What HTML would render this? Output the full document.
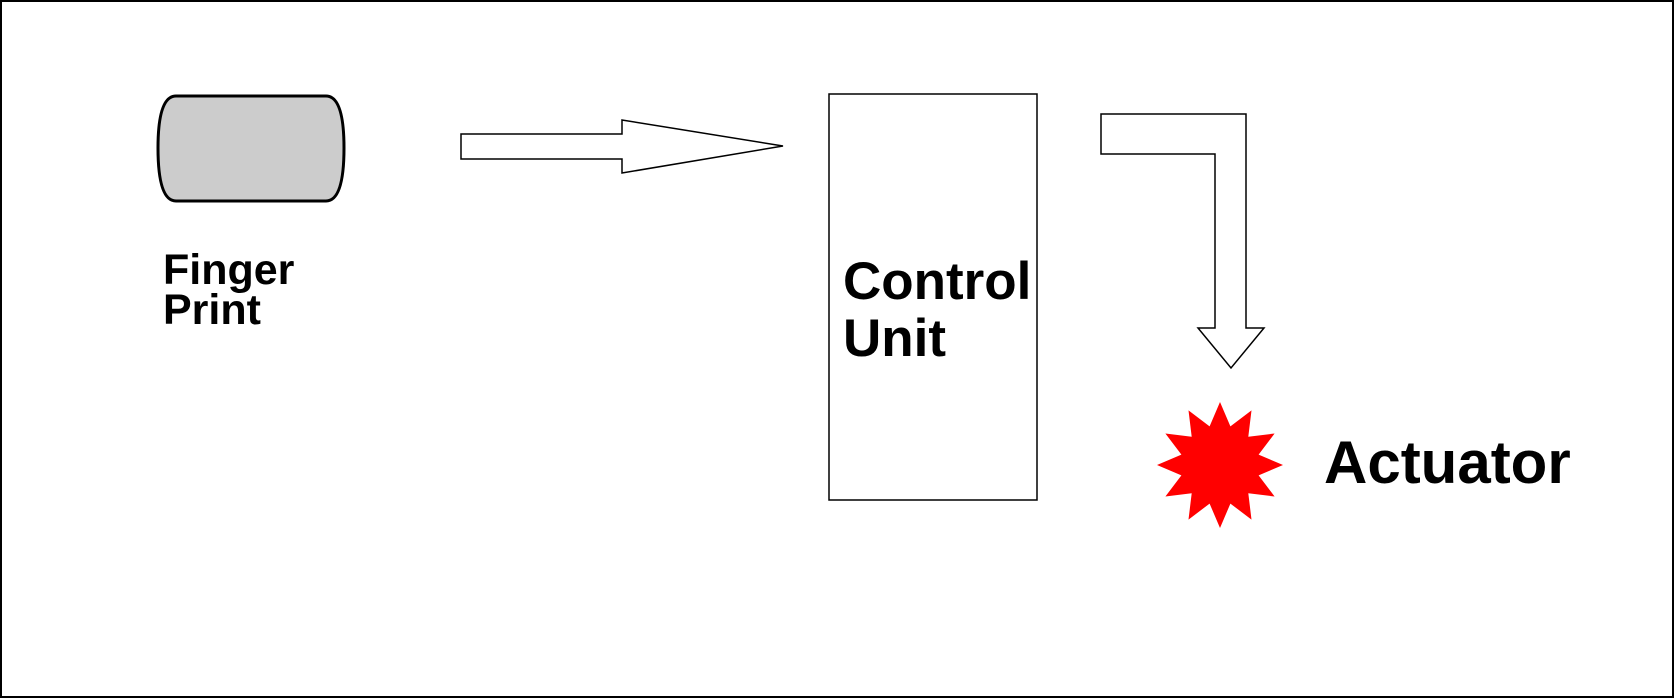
<!DOCTYPE html>
<html><head><meta charset="utf-8"><style>
html,body{margin:0;padding:0;background:#fff;}
svg{display:block;}
text{font-family:"Liberation Sans",Arial,sans-serif;font-weight:bold;fill:#000;}
</style></head><body>
<svg width="1675" height="699" viewBox="0 0 1675 699" xmlns="http://www.w3.org/2000/svg">
<rect x="1" y="1" width="1672" height="696" fill="#fff" stroke="#000" stroke-width="2"/>
<path d="M176,96 L326,96 Q344,96 344,148 Q344,201 326,201 L176,201 Q158,201 158,148 Q158,96 176,96 Z" fill="#cccccc" stroke="#000" stroke-width="3"/>
<text x="163" y="284" font-size="43">Finger</text>
<text x="163" y="324" font-size="43">Print</text>
<polygon points="461,134 622,134 622,120 783,146 622,173 622,159 461,159" fill="#fff" stroke="#000" stroke-width="1.5"/>
<rect x="829" y="94" width="208" height="406" fill="#fff" stroke="#000" stroke-width="1.5"/>
<text x="843" y="299" font-size="53">Control</text>
<text x="843" y="356" font-size="53">Unit</text>
<polygon points="1101,114 1246,114 1246,328 1264,328 1231,368 1198,328 1215,328 1215,154 1101,154" fill="#fff" stroke="#000" stroke-width="1.5"/>
<polygon id="star" fill="#ff0000" points=""/>
<text x="1324" y="483" font-size="60">Actuator</text>
<script>
(function(){var cx=1220,cy=465,R=63,r=40,p=[];for(var i=0;i<24;i++){var a=-Math.PI/2+i*Math.PI/12;var rr=i%2?r:R;p.push((cx+rr*Math.cos(a)).toFixed(1)+","+(cy+rr*Math.sin(a)).toFixed(1));}document.getElementById("star").setAttribute("points",p.join(" "));})();
</script>
</svg>
</body></html>
